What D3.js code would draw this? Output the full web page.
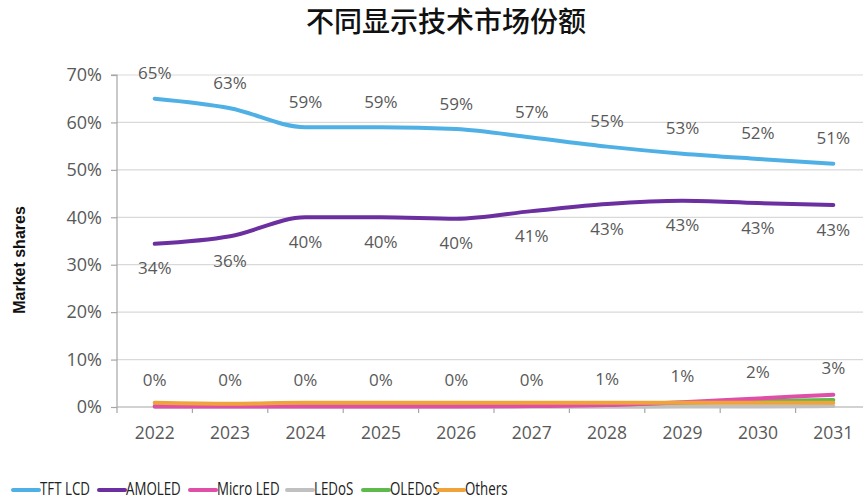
<!DOCTYPE html>
<html><head><meta charset="utf-8">
<script src="https://cdn.jsdelivr.net/npm/d3@7"></script>
<style>
body{margin:0;background:#fff;}
svg{display:block;}
</style></head>
<body>
<svg id="chart" width="863" height="502"></svg>
<script>
/* ===== Display tech market share chart ===== */
const years = ["2022","2023","2024","2025","2026","2027","2028","2029","2030","2031"];
const yTicks = [0, 10, 20, 30, 40, 50, 60, 70];

const tftLcd   = [65, 63, 59, 59, 58.6, 56.8, 54.9, 53.4, 52.3, 51.3];
const amoled   = [34.4, 36, 40, 40, 39.7, 41.3, 42.8, 43.5, 43, 42.6];
const microLed = [0.1, 0.1, 0.1, 0.1, 0.1, 0.2, 0.4, 1.0, 1.8, 2.6];
const ledos    = [0.05, 0.05, 0.05, 0.05, 0.05, 0.05, 0.05, 0.1, 0.1, 0.2];
const oledos   = [0.2, 0.2, 0.3, 0.3, 0.4, 0.5, 0.6, 0.9, 1.2, 1.5];
const others   = [0.9, 0.7, 0.9, 0.9, 0.9, 0.9, 0.9, 0.9, 0.9, 0.9];

const tftLabels   = ["65%","63%","59%","59%","59%","57%","55%","53%","52%","51%"];
const amoledLabels= ["34%","36%","40%","40%","40%","41%","43%","43%","43%","43%"];
const microLabels = ["0%","0%","0%","0%","0%","0%","1%","1%","2%","3%"];

const series = [
  {name:"TFT LCD",   values:tftLcd,   color:"#4fb0e5"},
  {name:"AMOLED",    values:amoled,   color:"#6b2fa0"},
  {name:"Micro LED", values:microLed, color:"#df4fa8"},
  {name:"LEDoS",     values:ledos,    color:"#c0c0c0"},
  {name:"OLEDoS",    values:oledos,   color:"#5dba4c"},
  {name:"Others",    values:others,   color:"#f0a33a"},
];

const svg = d3.select("#chart");
const W = 863, H = 502;
const m = {left:117, right:-8, top:75, bottom:95};

const x = d3.scaleBand().domain(years).range([m.left, W - m.right]);
const y = d3.scaleLinear().domain([0, 70]).range([H - m.bottom, m.top]);

const font = "'Open Sans',sans-serif";
const grey = "#595959";

// Title
svg.append("text")
  .attr("x", 446).attr("y", 32)
  .attr("text-anchor","middle")
  .attr("font-family","'Noto Sans CJK SC',sans-serif")
  .attr("font-size", 28).attr("font-weight", 500)
  .attr("fill","#111")
  .text("不同显示技术市场份额");

// Gridlines
svg.append("g").selectAll("line")
  .data(yTicks.filter(d => d > 0))
  .join("line")
  .attr("x1", m.left).attr("x2", W)
  .attr("y1", d => y(d)).attr("y2", d => y(d))
  .attr("stroke","#d9d9d9").attr("stroke-width",1.2);

// Y axis
const yAxis = svg.append("g")
  .attr("transform", `translate(${m.left},0)`)
  .call(d3.axisLeft(y).tickValues(yTicks).tickFormat(d => d + "%").tickSize(6).tickPadding(9));
yAxis.select(".domain").attr("stroke","#a6a6a6").attr("stroke-width",1.2)
  .attr("d", `M-6,${y(70)}H0V${y(0)+6}`);
yAxis.selectAll(".tick line").attr("stroke","#a6a6a6").attr("stroke-width",1.2);
yAxis.selectAll(".tick text").attr("font-family",font).attr("font-size",18).attr("fill",grey);

// X axis
const xAxis = svg.append("g")
  .attr("transform", `translate(0,${y(0)})`)
  .call(d3.axisBottom(x).tickSize(0).tickPadding(20));
xAxis.select(".domain").attr("stroke","#a6a6a6").attr("stroke-width",1.2)
  .attr("d", `M${m.left},0H${W}`);
xAxis.selectAll(".tick text").attr("font-family",font).attr("font-size",17.5).attr("fill",grey);
// tick marks between categories
xAxis.append("g").selectAll("line")
  .data(years.slice(1))
  .join("line")
  .attr("x1", d => x(d)).attr("x2", d => x(d))
  .attr("y1", 0).attr("y2", 6)
  .attr("stroke","#a6a6a6").attr("stroke-width",1.2);

// Y label
svg.append("text")
  .attr("transform","translate(25,260) rotate(-90)")
  .attr("text-anchor","middle")
  .attr("font-family","'Liberation Sans','Open Sans',sans-serif")
  .attr("font-size",16).attr("font-weight","bold")
  .attr("fill","#111")
  .text("Market shares");

// Lines
const line = d3.line()
  .x((d,i) => x(years[i]) + x.bandwidth()/2)
  .y(d => y(d))
  .curve(d3.curveMonotoneX);

const drawOrder = [series[3], series[4], series[2], series[5], series[1], series[0]];
svg.append("g").selectAll("path")
  .data(drawOrder)
  .join("path")
  .attr("d", d => line(d.values))
  .attr("fill","none")
  .attr("stroke", d => d.color)
  .attr("stroke-width", 4)
  .attr("stroke-linecap","round");

// Data labels
function labels(vals, txt, dy){
  svg.append("g").selectAll("text")
    .data(vals)
    .join("text")
    .attr("x", (d,i) => x(years[i]) + x.bandwidth()/2)
    .attr("y", d => y(d) + dy)
    .attr("text-anchor","middle")
    .attr("dominant-baseline","middle")
    .attr("font-family",font).attr("font-size",17)
    .attr("fill",grey)
    .text((d,i) => txt[i]);
}
labels(tftLcd, tftLabels, -24);
labels(amoled, amoledLabels, 26);
labels(microLed, microLabels, -25);

// Legend (condensed text like the original)
const legX = [13, 99, 190, 287, 363, 438];
const leg = svg.append("g").selectAll("g")
  .data(series)
  .join("g")
  .attr("transform", (d,i) => `translate(${legX[i]},490)`);
leg.append("line")
  .attr("x1",0).attr("x2",26).attr("y1",0).attr("y2",0)
  .attr("stroke", d => d.color).attr("stroke-width",4).attr("stroke-linecap","round");
leg.append("text")
  .attr("transform","translate(27,0) scale(0.74,1)")
  .attr("dominant-baseline","middle")
  .attr("font-family",font).attr("font-size",18)
  .attr("fill","#222")
  .text(d => d.name);
</script>
</body></html>
